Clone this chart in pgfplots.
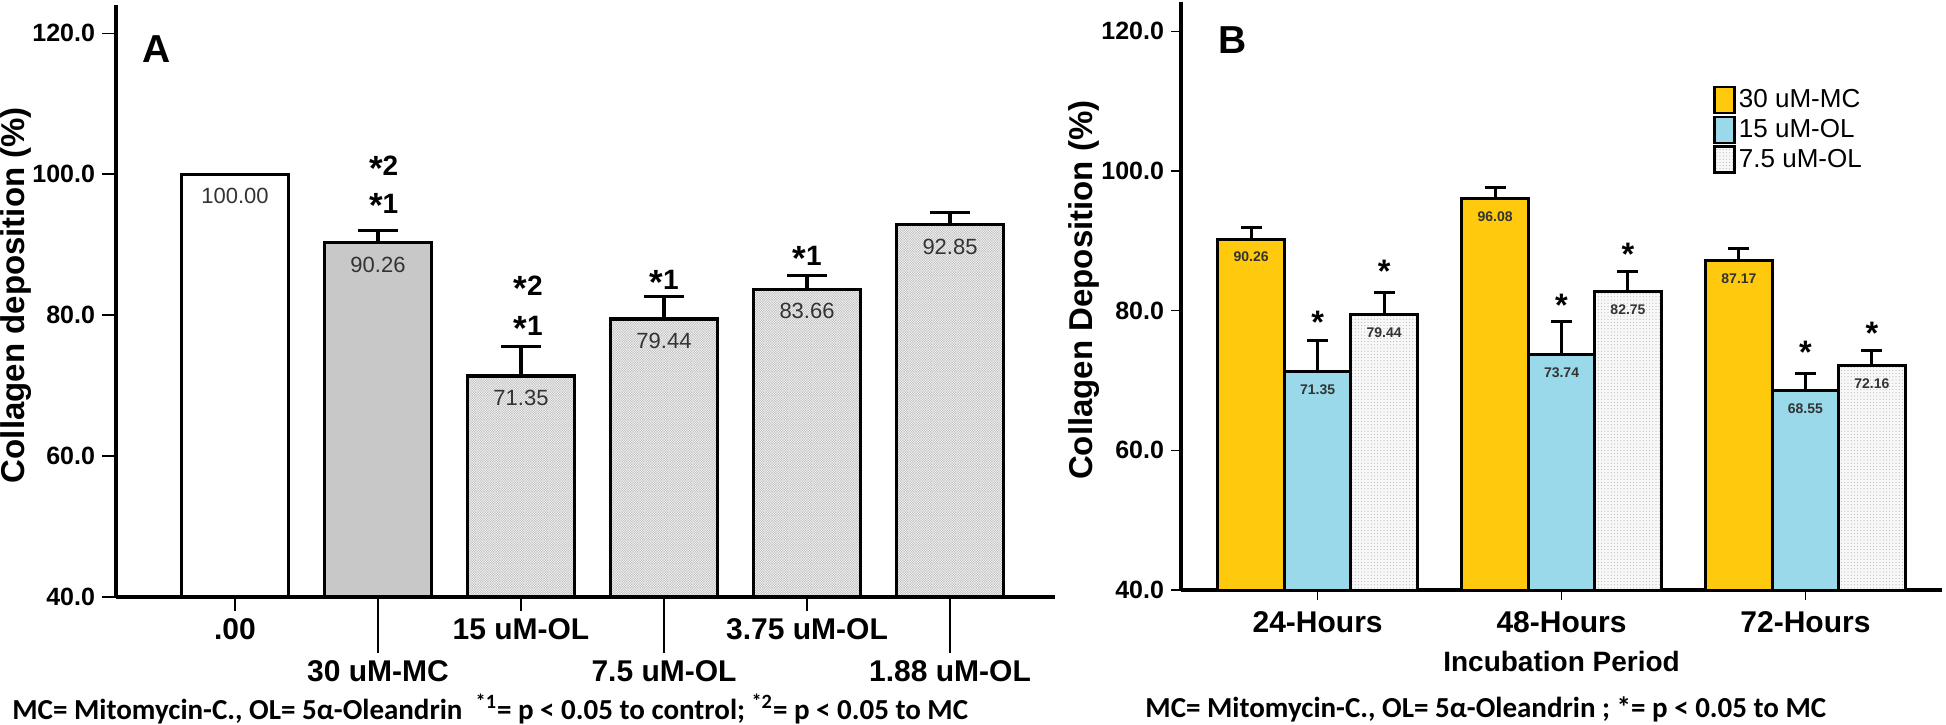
\documentclass[border=0pt]{standalone}
\usepackage{fontspec}
\setmainfont{Liberation Sans}
\newfontfamily\calibri{Carlito}
\usepackage{graphicx}
\usepackage{pgfplots}
\pgfplotsset{compat=1.18}
\usetikzlibrary{patterns}

\pgfdeclarepatternformonly{finedots}{\pgfpoint{-0.2pt}{-0.2pt}}{\pgfpoint{1.8pt}{1.8pt}}{\pgfpoint{1.6pt}{1.6pt}}{\pgfpathcircle{\pgfpoint{0.8pt}{0.8pt}}{0.3pt}\pgfusepath{fill}}
\pgfdeclarepatternformonly{finecheck}{\pgfpoint{-0.1pt}{-0.1pt}}{\pgfpoint{1.3pt}{1.3pt}}{\pgfpoint{1.2pt}{1.2pt}}{\pgfpathrectangle{\pgfpointorigin}{\pgfpoint{0.6pt}{0.6pt}}\pgfpathrectangle{\pgfpoint{0.6pt}{0.6pt}}{\pgfpoint{0.6pt}{0.6pt}}\pgfusepath{fill}}

\definecolor{mcgold}{RGB}{255,201,14}
\definecolor{olblue}{RGB}{153,217,234}
\definecolor{mcgray}{RGB}{200,200,200}
\definecolor{hatch}{RGB}{248,248,248}
\definecolor{dotbg}{RGB}{248,248,248}

\newcommand{\st}[1]{\raisebox{-0.32ex}{\scalebox{1.25}{*}}#1}

\pgfplotsset{
  panel/.style={
    scale only axis, clip=false,
    axis x line*=bottom, axis y line*=left,
    axis line style={line width=1.6pt,-},
    every outer x axis line/.append style={-},
    every outer y axis line/.append style={-},
    ymin=40, ytick={40,60,80,100,120},
    tick align=outside,
    major tick style={line width=0.7pt,black},
    /pgf/number format/assume math mode=true,
    yticklabel style={font=\bfseries\fontsize{12.5}{14}\selectfont,
      /pgf/number format/fixed, /pgf/number format/fixed zerofill, /pgf/number format/precision=1},
    xticklabel style={font=\bfseries\fontsize{15}{17}\selectfont},
    ylabel style={font=\bfseries\fontsize{16.5}{19}\selectfont, anchor=center},
    xlabel style={font=\bfseries\fontsize{14}{16}\selectfont, anchor=center},
  },
  barA/.style={ybar, bar shift=0, bar width=0.75, draw=black, line width=1.6pt,
    nodes near coords={\pgfmathprintnumber[fixed,fixed zerofill,precision=2,assume math mode=true]{\pgfplotspointmeta}},
    every node near coord/.append style={anchor=north, yshift=-3pt, font=\fontsize{11}{12}\selectfont, text=black!80}},
  errA/.style={error bars/.cd, y dir=plus, y explicit,
    error bar style={line width=1.6pt,black},
    error mark options={rotate=90,line width=1.6pt,mark size=10pt,black}},
  barB/.style={ybar, bar width=0.2725, bar shift=0, draw=black, line width=1.5pt,
    nodes near coords={\pgfmathprintnumber[fixed,fixed zerofill,precision=2,assume math mode=true]{\pgfplotspointmeta}},
    every node near coord/.append style={anchor=north, yshift=-2.5pt, font=\bfseries\fontsize{7}{8}\selectfont, text=black!80},
    legend image code/.code={\draw[##1, line width=1.3pt] (0pt,-6.5pt) rectangle (10pt,6.5pt);}},
  errB/.style={error bars/.cd, y dir=plus, y explicit,
    error bar style={line width=1.5pt,black},
    error mark options={rotate=90,line width=1.5pt,mark size=5.25pt,black}},
}

\begin{document}
\begin{tikzpicture}
\useasboundingbox (0,0) rectangle (973pt,362pt);

% ---------------- Panel A ----------------
\begin{axis}[panel,
  at={(58pt,63.5pt)}, anchor=south west,
  width=469.5pt, height=296pt,
  xmin=-0.832, xmax=5.734, ymax=124,
  major tick length=7pt,
  xtick={0,2,4}, xticklabels={.00,15 uM-OL,3.75 uM-OL},
  extra x ticks={1,3,5}, extra x tick labels={30 uM-MC,7.5 uM-OL,1.88 uM-OL},
  extra x tick style={major tick length=28pt},
  ylabel={Collagen deposition (\%)},
  ylabel style={at={(axis description cs:-0.1065,0.51)}},
]
\addplot[barA, fill=white] coordinates {(0,100)};
\addplot[barA, fill=mcgray, errA] coordinates {(1,90.26) +- (0,1.8)};
\addplot[barA, fill=hatch, postaction={pattern=finecheck, pattern color=gray!48}, errA]
  coordinates {(2,71.35) +- (0,4.25) (3,79.44) +- (0,3.2) (4,83.66) +- (0,2.0) (5,92.85) +- (0,1.75)};

\node[font=\bfseries\fontsize{19.5}{22}\selectfont] at (axis cs:-0.55,117.8) {A};
\begin{scope}[every node/.style={font=\bfseries\fontsize{14}{16}\selectfont}]
\node at (axis cs:1.04,100.8) {\st{2}};
\node at (axis cs:1.04,95.5) {\st{1}};
\node at (axis cs:2.05,83.8) {\st{2}};
\node at (axis cs:2.05,78.1) {\st{1}};
\node at (axis cs:3.0,84.7) {\st{1}};
\node at (axis cs:4.0,88.1) {\st{1}};
\end{scope}
\end{axis}

% ---------------- Panel B ----------------
\begin{axis}[panel,
  at={(590.5pt,67pt)}, anchor=south west,
  width=380.5pt, height=294pt,
  xmin=-0.56, xmax=2.56, ymax=124.2,
  major tick length=5pt,
  xtick={0,1,2}, xticklabels={24-Hours,48-Hours,72-Hours},
  xticklabel style={yshift=-2pt},
  xlabel={Incubation Period},
  xlabel style={at={(axis description cs:0.5,-0.122)}},
  ylabel={Collagen Deposition (\%)},
  ylabel style={at={(axis description cs:-0.1275,0.51)}},
  legend style={at={(axis description cs:0.699,0.858)}, anchor=north west,
    draw=none, fill=none, inner sep=0pt, row sep=0.6pt,
    font=\fontsize{13}{14}\selectfont, nodes={inner sep=1.5pt}},
  legend cell align=left,
]
\addplot[barB, fill=mcgold, errB] coordinates {(-0.2725,90.26) +- (0,1.7) (0.7275,96.08) +- (0,1.6) (1.7275,87.17) +- (0,1.8)};
\addlegendentry{30 uM-MC}
\addplot[barB, fill=olblue, errB] coordinates {(0,71.35) +- (0,4.35) (1,73.74) +- (0,4.7) (2,68.55) +- (0,2.4)};
\addlegendentry{15 uM-OL}
\addplot[barB, fill=dotbg, postaction={pattern=finedots, pattern color=gray!55}, errB] coordinates {(0.2725,79.44) +- (0,3.2) (1.2725,82.75) +- (0,2.9) (2.2725,72.16) +- (0,2.2)};
\addlegendentry{7.5 uM-OL}

\node[font=\bfseries\fontsize{19.5}{22}\selectfont] at (axis cs:-0.35,118.8) {B};
\begin{scope}[every node/.style={font=\bfseries\fontsize{13}{15}\selectfont}]
\node at (axis cs:0,78.3) {\st{}};
\node at (axis cs:0.2725,85.7) {\st{}};
\node at (axis cs:1,80.7) {\st{}};
\node at (axis cs:1.2725,88.0) {\st{}};
\node at (axis cs:2,74.0) {\st{}};
\node at (axis cs:2.2725,76.7) {\st{}};
\end{scope}
\end{axis}

% footnotes
\node[anchor=west, inner sep=0pt, font=\calibri\bfseries\fontsize{14.5}{16}\selectfont] at (6pt,7.5pt)
  {MC= Mitomycin-C., OL= 5α-Oleandrin\ \ \textsuperscript{*1}= p < 0.05 to control; \textsuperscript{*2}= p < 0.05 to MC};
\node[anchor=west, inner sep=0pt, font=\calibri\bfseries\fontsize{14.5}{16}\selectfont] at (572.5pt,7.5pt)
  {MC= Mitomycin-C., OL= 5α-Oleandrin ; *= p < 0.05 to MC};
\end{tikzpicture}
\end{document}
